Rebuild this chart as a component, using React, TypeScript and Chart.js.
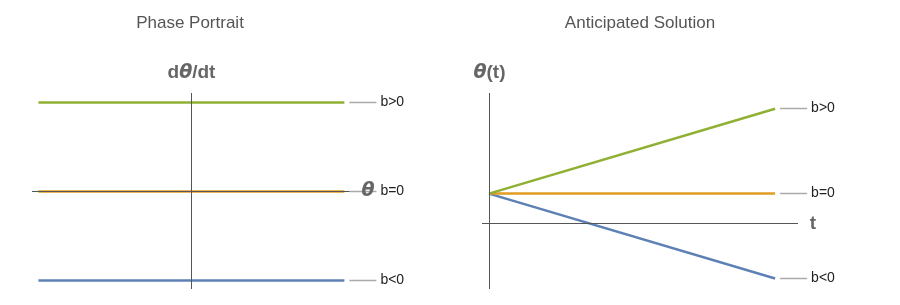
import React, { useEffect, useRef } from "react";
import { Chart, registerables } from "chart.js";
Chart.register(...registerables);

// ---- data ----
const seriesLabels = ["b>0", "b=0", "b<0"];
const seriesColors = ["#8FB032", "#E19C24", "#5E81B5"];
// Phase portrait: dθ/dt = b, constant over θ
const phaseTheta = [-1, 1];
const phaseRate = [1, 0, -1];
// Anticipated solution: θ(t) = θ0 + b t
const solTime = [0, 1];
const solThetaUp = [1, 3.83];
const solThetaFlat = [1, 1];
const solThetaDown = [1, -1.83];

const FONT = "'Liberation Sans', Arial, sans-serif";

type Run = { text: string; italic?: boolean };

function drawRuns(ctx: CanvasRenderingContext2D, runs: Run[], cx: number, cy: number, size: number, color: string) {
  ctx.save();
  ctx.fillStyle = color;
  ctx.textBaseline = "middle";
  ctx.textAlign = "left";
  const fontFor = (r: Run) => `${r.italic ? "italic " : ""}bold ${size}px ${r.italic ? "'DejaVu Sans', sans-serif" : FONT}`;
  let total = 0;
  for (const r of runs) {
    ctx.font = fontFor(r);
    total += ctx.measureText(r.text).width;
  }
  let x = cx - total / 2;
  for (const r of runs) {
    ctx.font = fontFor(r);
    ctx.fillText(r.text, x, cy);
    x += ctx.measureText(r.text).width;
  }
  ctx.restore();
}

function makePlugin(opts: {
  title: string;
  titleX: number;
  yLabel: Run[];
  xLabel: Run[];
  xLabelOffset: number;
}) {
  return {
    id: "decor",
    afterDatasetsDraw(chart: any) {
      const ctx = chart.ctx as CanvasRenderingContext2D;
      const area = chart.chartArea;
      const xs = chart.scales.x;
      const ys = chart.scales.y;
      const x0 = Math.floor(xs.getPixelForValue(0)) + 0.5;
      const y0 = Math.floor(ys.getPixelForValue(0)) + 0.5;
      ctx.save();
      ctx.strokeStyle = "#555";
      ctx.lineWidth = 1;
      ctx.beginPath();
      ctx.moveTo(x0, area.top);
      ctx.lineTo(x0, area.bottom);
      ctx.moveTo(area.left, y0);
      ctx.lineTo(area.right, y0);
      ctx.stroke();
      ctx.restore();

      // series end labels
      chart.data.datasets.forEach((ds: any, i: number) => {
        const meta = chart.getDatasetMeta(i);
        const pt = meta.data[meta.data.length - 1];
        const px = pt.x;
        const py = Math.floor(pt.y) + 0.5;
        ctx.save();
        ctx.strokeStyle = "#aaa";
        ctx.lineWidth = 1.5;
        ctx.beginPath();
        ctx.moveTo(px + 5, py);
        ctx.lineTo(px + 32, py);
        ctx.stroke();
        ctx.fillStyle = "#222";
        ctx.font = `14px ${FONT}`;
        ctx.textBaseline = "middle";
        ctx.textAlign = "left";
        ctx.fillText(ds.label, px + 36, py);
        ctx.restore();
      });

      // axis labels
      drawRuns(ctx, opts.yLabel, x0, 73, 19, "#666");
      drawRuns(ctx, opts.xLabel, area.right + opts.xLabelOffset, y0, 19, "#666");

      // title
      ctx.save();
      ctx.fillStyle = "#555";
      ctx.font = `17px ${FONT}`;
      ctx.textAlign = "center";
      ctx.textBaseline = "middle";
      ctx.fillText(opts.title, opts.titleX, 23);
      ctx.restore();
    },
  };
}

function PhaseChart() {
  const ref = useRef<HTMLCanvasElement>(null);
  useEffect(() => {
    const datasets = phaseRate.map((b, i) => ({
      label: seriesLabels[i],
      data: phaseTheta.map((t) => ({ x: t, y: b })),
      borderColor: seriesColors[i],
      borderWidth: 2.5,
      pointRadius: 0,
      fill: false,
    }));
    const chart = new Chart(ref.current!, {
      type: "line",
      data: { datasets },
      options: {
        animation: false,
        responsive: false,
        layout: { padding: { left: 32, right: 90, top: 93, bottom: 16 } },
        plugins: { legend: { display: false }, tooltip: { enabled: false } },
        scales: {
          x: { type: "linear", min: -1.042, max: 1.102, display: false },
          y: { type: "linear", min: -1.0955, max: 1.107, display: false },
        },
      },
      plugins: [
        makePlugin({
          title: "Phase Portrait",
          titleX: 190,
          yLabel: [{ text: "d" }, { text: "θ", italic: true }, { text: "/dt" }],
          xLabel: [{ text: "θ", italic: true }],
          xLabelOffset: 8,
        }),
      ],
    } as any);
    return () => chart.destroy();
  }, []);
  return <canvas ref={ref} width={450} height={305} style={{ position: "absolute", left: 0, top: 0 }} />;
}

function SolutionChart() {
  const ref = useRef<HTMLCanvasElement>(null);
  useEffect(() => {
    const series = [solThetaUp, solThetaFlat, solThetaDown];
    const datasets = series.map((vals, i) => ({
      label: seriesLabels[i],
      data: solTime.map((t, j) => ({ x: t, y: vals[j] })),
      borderColor: seriesColors[i],
      borderWidth: 2.5,
      pointRadius: 0,
      fill: false,
    }));
    const chart = new Chart(ref.current!, {
      type: "line",
      data: { datasets },
      options: {
        animation: false,
        responsive: false,
        layout: { padding: { left: 32, right: 102, top: 93, bottom: 16 } },
        plugins: { legend: { display: false }, tooltip: { enabled: false } },
        scales: {
          x: { type: "linear", min: -0.0245, max: 1.08, display: false },
          y: { type: "linear", min: -2.18, max: 4.354, display: false },
        },
      },
      plugins: [
        makePlugin({
          title: "Anticipated Solution",
          titleX: 190,
          yLabel: [{ text: "θ", italic: true }, { text: "(t)" }],
          xLabel: [{ text: "t" }],
          xLabelOffset: 15,
        }),
      ],
    } as any);
    return () => chart.destroy();
  }, []);
  return <canvas ref={ref} width={450} height={305} style={{ position: "absolute", left: 450, top: 0 }} />;
}

export default function App() {
  return (
    <div style={{ position: "fixed", left: 0, top: 0, width: 900, height: 305, background: "#fff" }}>
      <PhaseChart />
      <SolutionChart />
    </div>
  );
}
